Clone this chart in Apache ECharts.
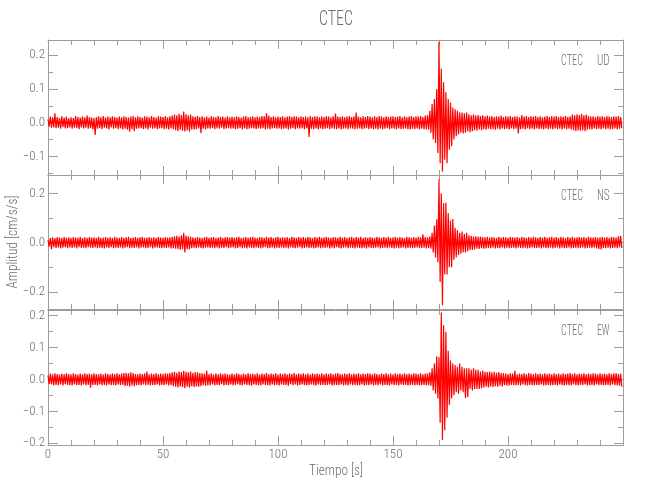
<!DOCTYPE html>
<html><head><meta charset="utf-8">
<script src="https://cdn.jsdelivr.net/npm/echarts@6/dist/echarts.min.js"></script>
<style>html,body{margin:0;padding:0;background:#fff}#c{width:650px;height:500px}</style>
</head><body><div id="c"></div>
<script>
// ---- data (in cm/s/s) ----
const title = 'CTEC';
const station = 'CTEC';
const components = ['UD', 'NS', 'EW'];
const xName = 'Tiempo [s]';
const yName = 'Amplitud [cm/s/s]';
const dt = 0.5;          // sample spacing of the traces below [s]
const tStart = 0;

const ud = [
.010,-.012,.018,-.015,.016,-.014,.028,-.016,.017,-.015,.014,-.018,.019,-.013,.015,-.017,.018,-.016,.013,-.014,
.016,-.018,.014,-.015,.020,-.016,.017,-.019,.015,-.014,.018,-.017,.016,-.015,.021,-.018,.017,-.016,.015,-.020,
.014,-.036,.017,-.018,.019,-.016,.016,-.019,.020,-.015,.015,-.017,.018,-.020,.016,-.014,.019,-.018,.017,-.016,
.015,-.019,.018,-.017,.016,-.020,.019,-.018,.017,-.021,.015,-.027,.018,-.019,.020,-.025,.016,-.018,.019,-.017,
.017,-.016,.015,-.019,.019,-.017,.018,-.020,.016,-.015,.020,-.018,.017,-.016,.015,-.019,.019,-.017,.018,-.016,
.017,-.019,.020,-.018,.016,-.020,.019,-.017,.021,-.019,.024,-.022,.022,-.025,.026,-.021,.023,-.024,.033,-.026,
.025,-.023,.022,-.026,.024,-.020,.019,-.021,.018,-.019,.020,-.017,.017,-.031,.019,-.018,.016,-.020,.018,-.017,
.015,-.018,.019,-.016,.017,-.019,.016,-.017,.020,-.018,.017,-.015,.018,-.019,.015,-.017,.019,-.016,.016,-.018,
.018,-.017,.016,-.019,.019,-.018,.017,-.016,.015,-.020,.018,-.017,.020,-.019,.016,-.018,.017,-.016,.019,-.017,
.016,-.019,.018,-.017,.017,-.018,.020,-.016,.019,-.020,.028,-.018,.021,-.019,.017,-.017,.019,-.016,.016,-.018,
.018,-.017,.017,-.019,.019,-.018,.016,-.017,.018,-.020,.020,-.018,.017,-.016,.019,-.019,.018,-.017,.016,-.018,
.019,-.016,.017,-.019,.018,-.017,.016,-.042,.020,-.018,.017,-.019,.019,-.017,.018,-.020,.016,-.017,.018,-.019,
.017,-.018,.020,-.016,.018,-.019,.016,-.017,.019,-.018,.027,-.019,.018,-.017,.017,-.020,.019,-.018,.016,-.017,
.018,-.019,.020,-.017,.017,-.018,.019,-.020,.030,-.018,.018,-.017,.016,-.019,.019,-.018,.017,-.016,.020,-.019,
.018,-.017,.016,-.019,.019,-.018,.017,-.020,.020,-.017,.018,-.019,.016,-.018,.019,-.016,.017,-.019,.018,-.017,
.019,-.018,.017,-.020,.018,-.017,.020,-.019,.016,-.018,.019,-.017,.017,-.019,.018,-.020,.020,-.018,.017,-.019,
.019,-.017,.018,-.020,.020,-.018,.017,-.019,.021,-.020,.022,-.021,.035,-.030,.055,-.050,.070,-.060,.100,-.090,
.240,-.120,.160,-.145,.120,-.110,.090,-.120,.070,-.080,.060,-.070,.045,-.050,.040,-.040,.035,-.035,.030,-.030,
.030,-.032,.028,-.030,.030,-.025,.025,-.028,.022,-.025,.024,-.022,.021,-.023,.023,-.020,.020,-.022,.022,-.019,
.019,-.021,.021,-.018,.018,-.020,.020,-.019,.017,-.021,.019,-.018,.018,-.020,.021,-.017,.017,-.019,.019,-.018,
.018,-.020,.020,-.017,.017,-.019,.019,-.018,.018,-.032,.016,-.019,.023,-.018,.018,-.020,.020,-.017,.017,-.019,
.019,-.018,.018,-.020,.020,-.017,.017,-.019,.019,-.018,.016,-.020,.018,-.017,.020,-.019,.017,-.018,.019,-.020,
.018,-.017,.020,-.019,.017,-.018,.019,-.020,.018,-.017,.020,-.019,.017,-.018,.019,-.020,.024,-.022,.022,-.025,
.025,-.023,.023,-.024,.026,-.022,.022,-.025,.024,-.021,.020,-.019,.018,-.020,.019,-.017,.017,-.019,.020,-.018,
.018,-.020,.019,-.017,.017,-.019,.020,-.018,.018,-.020,.017,-.019,.019,-.017,.018,-.020,.020,-.018,.017,-.016
];

const ns = [
.010,-.016,.019,-.027,.022,-.019,.018,-.022,.023,-.020,.021,-.024,.018,-.021,.024,-.019,.020,-.023,.022,-.020,
.019,-.022,.023,-.020,.021,-.024,.020,-.019,.024,-.022,.018,-.021,.022,-.023,.020,-.019,.023,-.021,.021,-.022,
.022,-.020,.020,-.023,.024,-.021,.019,-.022,.021,-.024,.023,-.020,.020,-.022,.022,-.019,.019,-.023,.024,-.021,
.021,-.022,.019,-.020,.023,-.024,.020,-.021,.022,-.019,.024,-.023,.019,-.021,.021,-.022,.023,-.020,.020,-.024,
.022,-.021,.024,-.020,.019,-.023,.021,-.022,.023,-.019,.020,-.024,.022,-.021,.019,-.020,.024,-.022,.021,-.023,
.020,-.021,.023,-.022,.021,-.020,.022,-.024,.024,-.023,.026,-.025,.028,-.026,.025,-.029,.030,-.027,.040,-.040,
.029,-.027,.026,-.028,.024,-.023,.022,-.021,.020,-.023,.023,-.020,.021,-.022,.019,-.024,.022,-.021,.024,-.020,
.020,-.022,.022,-.021,.023,-.023,.019,-.020,.021,-.024,.024,-.021,.020,-.022,.022,-.019,.023,-.023,.021,-.021,
.023,-.020,.020,-.024,.022,-.022,.024,-.019,.019,-.023,.021,-.021,.023,-.024,.020,-.020,.022,-.022,.024,-.023,
.021,-.020,.019,-.022,.023,-.024,.022,-.021,.020,-.019,.024,-.023,.021,-.022,.023,-.020,.019,-.024,.022,-.021,
.024,-.022,.020,-.020,.022,-.023,.021,-.021,.023,-.024,.019,-.020,.024,-.022,.022,-.023,.020,-.021,.023,-.019,
.021,-.024,.023,-.022,.020,-.020,.024,-.023,.022,-.021,.019,-.024,.023,-.022,.021,-.020,.024,-.023,.020,-.021,
.022,-.022,.024,-.020,.021,-.024,.019,-.021,.023,-.023,.022,-.019,.020,-.022,.024,-.024,.021,-.021,.023,-.020,
.019,-.023,.022,-.021,.024,-.022,.020,-.024,.023,-.020,.021,-.022,.024,-.023,.019,-.021,.022,-.024,.020,-.020,
.023,-.022,.021,-.023,.019,-.021,.024,-.020,.022,-.024,.020,-.022,.023,-.021,.021,-.023,.024,-.020,.019,-.022,
.022,-.024,.024,-.021,.020,-.023,.023,-.022,.021,-.020,.019,-.024,.024,-.022,.022,-.021,.020,-.023,.023,-.022,
.021,-.020,.024,-.023,.022,-.022,.034,-.021,.023,-.024,.022,-.022,.025,-.025,.040,-.040,.070,-.060,.095,-.080,
.258,-.160,.200,-.255,.160,-.130,.163,-.130,.120,-.100,.090,-.100,.096,-.070,.060,-.060,.050,-.050,.040,-.045,
.045,-.040,.035,-.040,.040,-.035,.030,-.030,.028,-.030,.025,-.028,.026,-.025,.024,-.026,.025,-.023,.023,-.025,
.022,-.024,.024,-.022,.021,-.023,.023,-.021,.022,-.024,.020,-.022,.024,-.023,.021,-.020,.023,-.024,.022,-.021,
.020,-.023,.024,-.022,.022,-.021,.021,-.024,.023,-.020,.019,-.022,.024,-.023,.022,-.021,.020,-.024,.023,-.022,
.021,-.020,.024,-.023,.022,-.022,.019,-.021,.023,-.024,.021,-.020,.024,-.022,.020,-.023,.022,-.021,.024,-.024,
.021,-.022,.023,-.020,.020,-.024,.024,-.021,.022,-.023,.019,-.022,.023,-.020,.021,-.024,.024,-.022,.020,-.021,
.022,-.023,.024,-.022,.021,-.020,.023,-.024,.020,-.022,.024,-.021,.022,-.023,.021,-.020,.023,-.024,.020,-.026,
.022,-.028,.024,-.022,.021,-.023,.023,-.021,.020,-.024,.024,-.022,.022,-.021,.021,-.023,.026,-.020,.028,-.022
];

const ew = [
.012,-.014,.018,-.016,.016,-.019,.019,-.017,.017,-.018,.015,-.016,.018,-.019,.016,-.015,.019,-.017,.017,-.018,
.016,-.019,.019,-.016,.017,-.018,.015,-.017,.018,-.019,.016,-.016,.019,-.018,.017,-.017,.018,-.026,.016,-.018,
.019,-.017,.017,-.019,.016,-.016,.018,-.018,.015,-.017,.019,-.019,.017,-.016,.016,-.018,.018,-.017,.017,-.019,
.019,-.016,.016,-.018,.018,-.017,.020,-.021,.021,-.020,.019,-.022,.022,-.019,.020,-.021,.017,-.018,.016,-.017,
.018,-.019,.017,-.016,.019,-.018,.025,-.017,.016,-.019,.018,-.017,.017,-.018,.019,-.016,.016,-.019,.018,-.017,
.017,-.018,.019,-.016,.018,-.019,.020,-.018,.022,-.021,.024,-.023,.021,-.025,.025,-.022,.023,-.024,.027,-.028,
.024,-.023,.022,-.025,.025,-.021,.021,-.024,.023,-.022,.022,-.023,.020,-.021,.019,-.018,.018,-.020,.028,-.019,
.017,-.018,.019,-.016,.015,-.019,.018,-.017,.016,-.018,.019,-.015,.017,-.019,.018,-.017,.016,-.018,.015,-.016,
.018,-.019,.016,-.017,.019,-.015,.017,-.018,.015,-.019,.018,-.016,.016,-.017,.019,-.018,.017,-.020,.018,-.016,
.016,-.017,.019,-.018,.015,-.019,.018,-.016,.017,-.017,.020,-.018,.016,-.019,.018,-.016,.017,-.018,.019,-.017,
.015,-.019,.018,-.016,.017,-.017,.019,-.018,.016,-.020,.018,-.015,.017,-.018,.020,-.016,.016,-.019,.018,-.017,
.017,-.016,.019,-.018,.016,-.019,.018,-.017,.015,-.016,.019,-.018,.017,-.020,.018,-.016,.016,-.018,.019,-.017,
.016,-.018,.018,-.017,.017,-.016,.019,-.019,.016,-.018,.018,-.017,.020,-.018,.017,-.016,.016,-.019,.018,-.017,
.017,-.019,.019,-.016,.016,-.018,.018,-.017,.017,-.019,.019,-.018,.016,-.016,.018,-.019,.017,-.017,.019,-.018,
.018,-.016,.016,-.019,.019,-.017,.017,-.018,.015,-.016,.018,-.019,.017,-.017,.019,-.018,.016,-.019,.018,-.016,
.016,-.018,.019,-.017,.017,-.019,.018,-.016,.016,-.018,.019,-.017,.017,-.019,.018,-.018,.016,-.017,.019,-.019,
.018,-.017,.017,-.019,.019,-.018,.016,-.017,.018,-.019,.019,-.018,.022,-.020,.035,-.035,.050,-.045,.073,-.060,
.070,-.136,.210,-.190,.170,-.160,.150,-.120,.090,-.080,.060,-.060,.050,-.050,.045,-.040,.040,-.045,.050,-.035,
.040,-.040,.035,-.058,.035,-.055,.035,-.030,.030,-.035,.035,-.030,.030,-.030,.030,-.030,.025,-.028,.028,-.025,
.024,-.023,.023,-.025,.025,-.022,.022,-.024,.024,-.021,.021,-.023,.023,-.020,.020,-.022,.019,-.018,.018,-.020,
.017,-.019,.019,-.017,.018,-.018,.027,-.019,.016,-.017,.018,-.019,.017,-.016,.019,-.018,.016,-.019,.020,-.017,
.018,-.018,.016,-.019,.019,-.017,.017,-.018,.018,-.016,.016,-.019,.019,-.018,.017,-.017,.018,-.019,.016,-.018,
.019,-.017,.017,-.019,.018,-.016,.016,-.018,.019,-.019,.017,-.017,.018,-.018,.020,-.019,.017,-.016,.019,-.018,
.016,-.019,.018,-.017,.017,-.018,.019,-.016,.016,-.019,.018,-.018,.017,-.017,.019,-.019,.018,-.016,.016,-.018,
.019,-.017,.017,-.019,.018,-.018,.016,-.017,.019,-.019,.017,-.016,.018,-.018,.020,-.019,.017,-.020,.018,-.023
];

const xRange = [0, 250];
const xMajorTicks = [0, 50, 100, 150, 200];
const xMinorTicks = [10,20,30,40,60,70,80,90,110,120,130,140,160,170,180,190,210,220,230,240];
const yRanges = [[-0.155, 0.245], [-0.27, 0.275], [-0.206, 0.218]];
const yMajorTicks = [[-0.1, 0, 0.1, 0.2], [-0.2, 0, 0.2], [-0.2, -0.1, 0, 0.1, 0.2]];
const yMinorTicks = [[-0.15, -0.05, 0.05, 0.15], [-0.1, 0.1], [-0.15, -0.05, 0.05, 0.15]];

// ---- styling / layout ----
const FONT = "'Roboto Condensed','Liberation Sans',sans-serif";
const WEIGHT = 300;
const TXT = '#6e6e6e';
const AX = '#9c9c9c';
const panelBoxes = [{top: 40, height: 135}, {top: 175, height: 134}, {top: 310, height: 135}];
const labelY = [61, 196, 331];

const fmtY = v => (v < 0 ? '\u2212' : '') + Math.abs(v).toFixed(1);
const fmtX = v => String(Math.round(v));

function mkAxis(gridIndex, position, range, ticks, len, showLine, showLabels, fmt) {
  return {
    type: 'value', gridIndex, position, min: range[0], max: range[1],
    axisLine: {show: showLine, onZero: false, lineStyle: {color: AX, width: 1}},
    axisTick: {show: true, inside: true, length: len, customValues: ticks, lineStyle: {color: AX, width: 1}},
    axisLabel: showLabels ? {show: true, customValues: ticks, formatter: fmt, color: TXT,
      fontFamily: FONT, fontWeight: WEIGHT, fontSize: 13, margin: 3} : {show: false},
    splitLine: {show: false}, minorTick: {show: false}, silent: true
  };
}

const traces = [ud, ns, ew];
const grid = [], xAxis = [], yAxis = [], series = [];
panelBoxes.forEach((b, i) => {
  grid.push({left: 48, right: 27, top: b.top, height: b.height});
  xAxis.push(mkAxis(i, 'bottom', xRange, xMajorTicks, 9, true, i === 2, fmtX));
  xAxis.push(mkAxis(i, 'bottom', xRange, xMinorTicks, 5, false, false));
  xAxis.push(mkAxis(i, 'top', xRange, xMajorTicks, 9, true, false));
  xAxis.push(mkAxis(i, 'top', xRange, xMinorTicks, 5, false, false));
  yAxis.push(mkAxis(i, 'left', yRanges[i], yMajorTicks[i], 10, true, true, fmtY));
  yAxis.push(mkAxis(i, 'left', yRanges[i], yMinorTicks[i], 5, false, false));
  yAxis.push(mkAxis(i, 'right', yRanges[i], yMajorTicks[i], 9, true, false));
  yAxis.push(mkAxis(i, 'right', yRanges[i], yMinorTicks[i], 5, false, false));
  series.push({
    type: 'line', xAxisIndex: i * 4, yAxisIndex: i * 4,
    data: traces[i].map((v, k) => [tStart + k * dt, v]),
    showSymbol: false, symbol: 'none', silent: true, animation: false,
    lineStyle: {color: '#ff0000', width: 1.2}
  });
});

// text boxes: font size sets the height, a horizontal scale sets the width seen in the reference
const mctx = document.createElement('canvas').getContext('2d');
const fontOf = size => WEIGHT + ' ' + size + 'px ' + FONT;
function fitText(text, size, width, x, y, align, rotation) {
  mctx.font = fontOf(size);
  const s = width / mctx.measureText(text).width;
  return {type: 'text', x, y, rotation: rotation || 0, scaleX: s,
    style: {text, font: fontOf(size), fill: TXT, align, verticalAlign: 'middle'}};
}
const graphic = [
  fitText(title, 20, 34, 336, 20, 'center'),
  fitText(xName, 15, 54, 336, 471, 'center'),
  fitText(yName, 15, 93, 13, 242, 'center', Math.PI / 2)
];
components.forEach((c, i) => {
  graphic.push(fitText(station, 15, 22, 561, labelY[i], 'left'));
  graphic.push(fitText(c, 15, 12.6, 609.5, labelY[i], 'right'));
});

const chart = echarts.init(document.getElementById('c'), null, {renderer: 'canvas'});
chart.setOption({backgroundColor: '#ffffff', animation: false, grid, xAxis, yAxis, series, graphic});
</script>
</body></html>
